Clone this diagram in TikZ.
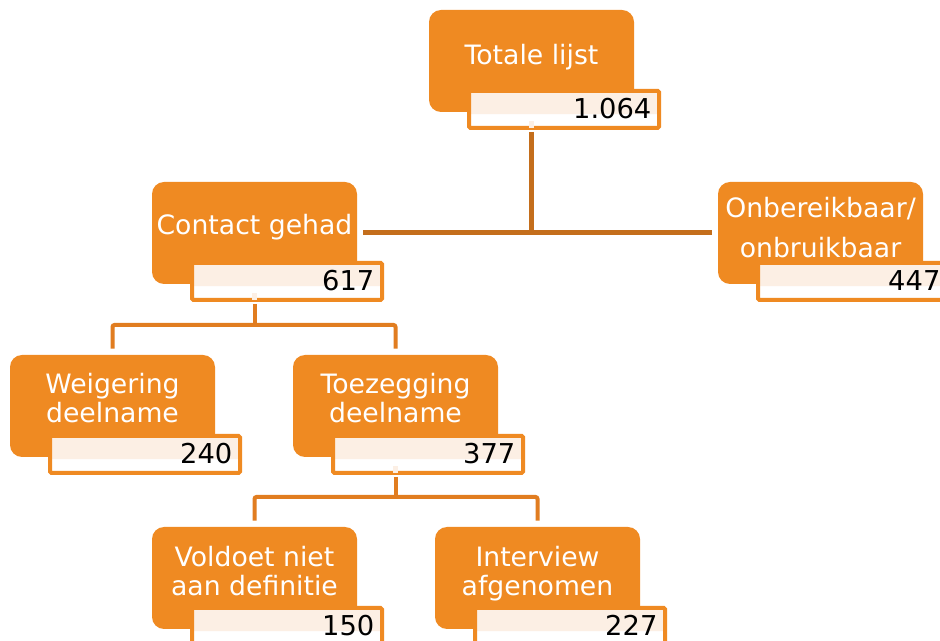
\documentclass[tikz,border=0pt]{standalone}
\usepackage{fontspec}
\setmainfont{DejaVu Sans}
\definecolor{boxor}{HTML}{EF8A22}
\definecolor{conndark}{HTML}{C46E1C}
\definecolor{connor}{HTML}{E17D20}
\definecolor{peach}{HTML}{FCEFE4}
\begin{document}
\begin{tikzpicture}[x=0.75pt,y=-0.75pt,
  obox/.style={fill=boxor, rounded corners=9pt, minimum width=153.75pt, minimum height=76.5pt, inner sep=0pt},
  nbox/.style={draw=boxor, line width=3pt, fill=white, minimum width=142.5pt, minimum height=27.75pt, inner sep=0pt, rounded corners=1pt,
    path picture={\fill[peach] (path picture bounding box.north west) rectangle ([yshift=-3.4pt]path picture bounding box.east);}},
  txt/.style={text=white, font=\fontsize{20}{21.75}\selectfont, align=center, inner sep=0pt},
  num/.style={text=black, font=\fontsize{20.5}{21.75}\selectfont, inner sep=0pt, anchor=base east},
  topline/.style={draw=conndark, line width=3.75pt},
  subline/.style={draw=connor, line width=3pt, rounded corners=1.5pt}
]
\useasboundingbox (0,0) rectangle (940,641);
\clip (0,0) rectangle (940,641);

% Totale lijst
\node[obox] (b1) at (531.5,61) {};
\node[nbox] (n1) at (564,109.5) {};
\node[txt, anchor=base] (t1) at (531.5,65) {Totale lijst};
\node[num] (v1) at ([xshift=-7pt,yshift=-6.4pt]n1.east) {1.064};

% Contact gehad
\node[obox] (b2) at (254.5,233) {};
\node[nbox] (n2) at (287,281.5) {};
\node[txt, anchor=base] (t2) at (254.5,235) {Contact gehad};
\node[num] (v2) at ([xshift=-7pt,yshift=-6.4pt]n2.east) {617};

% Onbereikbaar
\node[obox] (b3) at (820.5,233) {};
\node[nbox] (n3) at (853,281.5) {};
\node[txt, font=\fontsize{20}{30}\selectfont] (t3) at (820.5,228) {Onbereikbaar/\\onbruikbaar};
\node[num] (v3) at ([xshift=-7pt,yshift=-6.4pt]n3.east) {447};

% Weigering deelname
\node[obox] (b4) at (112.5,406) {};
\node[nbox] (n4) at (145,454.5) {};
\node[txt] (t4) at (112.5,398) {Weigering\\deelname};
\node[num] (v4) at ([xshift=-7pt,yshift=-6.4pt]n4.east) {240};

% Toezegging deelname
\node[obox] (b5) at (395.5,406) {};
\node[nbox] (n5) at (428,454.5) {};
\node[txt] (t5) at (395.5,398) {Toezegging\\deelname};
\node[num] (v5) at ([xshift=-7pt,yshift=-6.4pt]n5.east) {377};

% Voldoet niet aan definitie
\node[obox] (b6) at (254.5,578) {};
\node[nbox] (n6) at (287,626.5) {};
\node[txt] (t6) at (254.5,571.5) {Voldoet niet\\aan definitie};
\node[num] (v6) at ([xshift=-7pt,yshift=-6.4pt]n6.east) {150};

% Interview afgenomen
\node[obox] (b7) at (537.5,578) {};
\node[nbox] (n7) at (570,626.5) {};
\node[txt] (t7) at (537.5,574) {Interview\\afgenomen};
\node[num] (v7) at ([xshift=-7pt,yshift=-6.4pt]n7.east) {227};

% connectors
\fill[peach] ([xshift=-2pt,yshift=6.5pt]b1 |- n1.south) rectangle ([xshift=2pt,yshift=1.5pt]b1 |- n1.south);
\draw[topline] ([yshift=-1.5pt]b1 |- n1.south) -- (b1 |- b2.east);
\draw[topline, shorten <=4.5pt, shorten >=4pt] (b2.east) -- (b3.west);

\coordinate (j2) at (254.5,325);
\fill[peach] ([xshift=-2pt,yshift=6.5pt]b2 |- n2.south) rectangle ([xshift=2pt,yshift=1.5pt]b2 |- n2.south);
\draw[subline] ([yshift=-1.5pt]b2 |- n2.south) -- (j2);
\draw[subline, shorten <=4.5pt, shorten >=4.5pt] (b4.north) |- (j2) -| (b5.north);

\coordinate (j5) at (395.5,497);
\fill[peach] ([xshift=-2pt,yshift=6.5pt]b5 |- n5.south) rectangle ([xshift=2pt,yshift=1.5pt]b5 |- n5.south);
\draw[subline] ([yshift=-1.5pt]b5 |- n5.south) -- (j5);
\draw[subline, shorten <=4.5pt, shorten >=4.5pt] (b6.north) |- (j5) -| (b7.north);
\end{tikzpicture}
\end{document}
